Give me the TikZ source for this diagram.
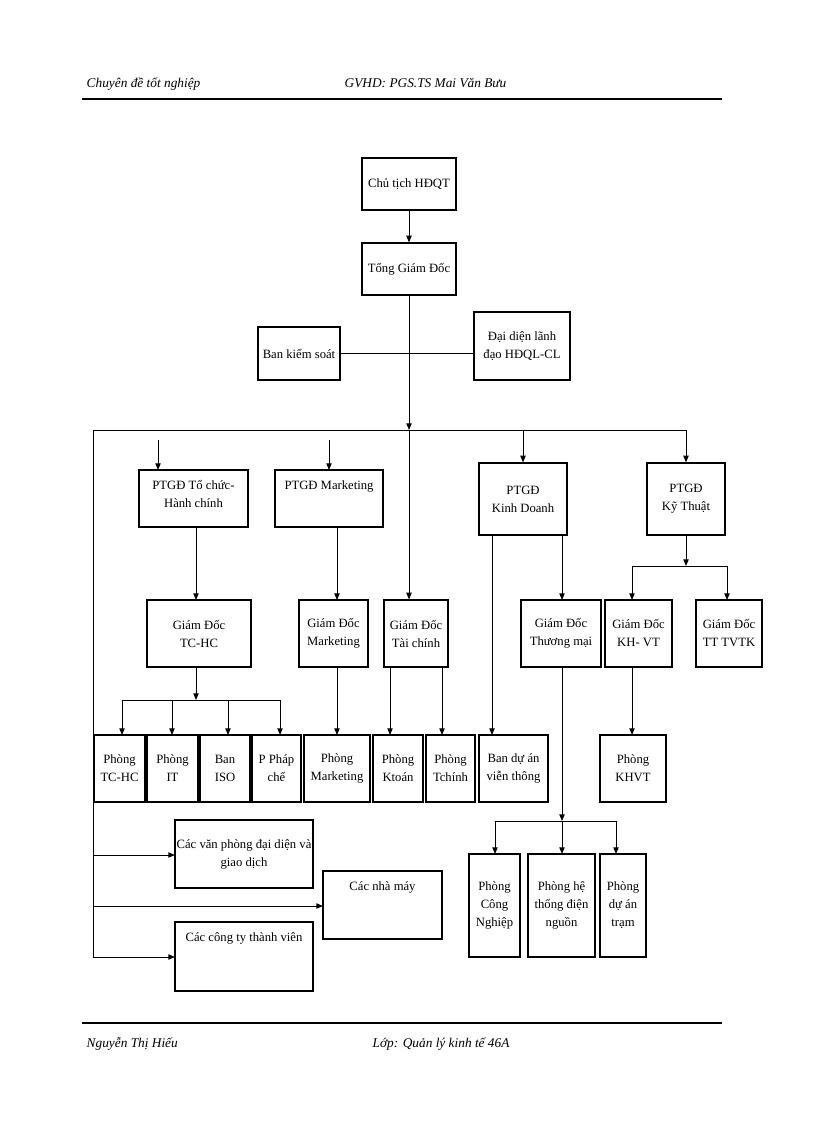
\documentclass[tikz,border=0pt]{standalone}
\usepackage{fontspec}
\setmainfont{Liberation Serif}
\usetikzlibrary{arrows.meta}
\newcommand{\mybox}[6]{\node[bx,minimum width={(#4-#2)*0.75pt},minimum height={(#5-#3)*0.75pt}] (#1) at ({(#2+#4)/2},{(#3+#5)/2}) {#6};}
\newcommand{\mytopbox}[6]{\node[bx,minimum width={(#4-#2)*0.75pt},minimum height={(#5-#3)*0.75pt}] (#1) at ({(#2+#4)/2},{(#3+#5)/2}) {}; \node[txt,anchor=north] at ({(#2+#4)/2},{#3+6}) {#6};}
\begin{document}
\begin{tikzpicture}[x=0.75pt,y=-0.75pt,
  bx/.style={draw,line width=0.9pt,inner sep=1pt,align=center,font=\fontsize{9.5}{13.5}\selectfont},
  txt/.style={align=center,font=\fontsize{9.5}{13.5}\selectfont},
  ln/.style={line width=0.7pt},
  ar/.style={line width=0.7pt,-{Triangle[length=5pt,width=4pt]}}]
\useasboundingbox (0,0) rectangle (816,1123);
% header/footer
\node[anchor=base west,font=\itshape\fontsize{10}{12}\selectfont] (h1) at (82,88) {Chuyên đề tốt nghiệp};
\node[anchor=base west,font=\itshape\fontsize{10}{12}\selectfont] (h2) at (340,88) {GVHD: PGS.TS Mai Văn Bưu};
\draw[line width=1.6pt] (82,99) -- (722,99);
\draw[line width=1.6pt] (82,1023) -- (722,1023);
\node[anchor=base west,font=\itshape\fontsize{10}{12}\selectfont] (f1) at (82,1047) {Nguyễn Thị Hiếu};
\node[anchor=base west,font=\itshape\fontsize{10}{12}\selectfont] (f2) at (368,1047) {Lớp: Quản lý kinh tế 46A};
% boxes
\mybox{ct}{362}{158}{456}{210}{Chủ tịch HĐQT}
\mybox{tgd}{362}{243}{456}{295}{Tổng Giám Đốc}
\mybox{bks}{258}{327}{340}{380}{Ban kiểm soát}
\mybox{dd}{474}{312}{570}{380}{Đại diện lãnh\\đạo HĐQL-CL}
\mytopbox{p1}{139}{470}{248}{527}{PTGĐ Tổ chức-\\Hành chính}
\mytopbox{p2}{275}{470}{383}{527}{PTGĐ Marketing}
\mybox{p3}{479}{463}{567}{535}{PTGĐ\\Kinh Doanh}
\mybox{p4}{647}{463}{725}{535}{PTGĐ\\Kỹ Thuật}
\mybox{g1}{147}{600}{251}{667}{Giám Đốc\\TC-HC}
\mybox{g2}{299}{600}{368}{667}{Giám Đốc\\Marketing}
\mybox{g3}{384}{600}{448}{667}{Giám Đốc\\Tài chính}
\mybox{g4}{521}{600}{601}{667}{Giám Đốc\\Thương mại}
\mybox{g5}{605}{600}{672}{667}{Giám Đốc\\KH- VT}
\mybox{g6}{696}{600}{762}{667}{Giám Đốc\\TT TVTK}
\mybox{r1}{94}{735}{145}{802}{Phòng\\TC-HC}
\mybox{r2}{147}{735}{198}{802}{Phòng\\IT}
\mybox{r3}{200}{735}{250}{802}{Ban\\ISO}
\mybox{r4}{252}{735}{301}{802}{P Pháp\\chế}
\mybox{r5}{304}{735}{370}{802}{Phòng\\Marketing}
\mybox{r6}{373}{735}{423}{802}{Phòng\\Ktoán}
\mybox{r7}{426}{735}{475}{802}{Phòng\\Tchính}
\mybox{r8}{479}{735}{548}{802}{Ban dự án\\viễn thông}
\mybox{r9}{600}{735}{666}{802}{Phòng\\KHVT}
\mybox{s1}{469}{854}{520}{957}{Phòng\\Công\\Nghiệp}
\mybox{s2}{528}{854}{595}{957}{Phòng hệ\\thống điện\\nguồn}
\mybox{s3}{600}{854}{646}{957}{Phòng\\dự án\\trạm}
\mybox{c1}{175}{820}{313}{888}{Các văn phòng đại diện và\\giao dịch}
\mytopbox{c2}{323}{871}{442}{939}{Các nhà máy}
\mytopbox{c3}{175}{922}{313}{991}{Các công ty thành viên}
% coordinates
\coordinate (bl) at (93,430);
\coordinate (br) at (686,430);
\coordinate (m) at (409,430);
\coordinate (bot) at (93,957);
% connectors
\draw[ar] (ct) -- (tgd);
\draw[ln] (bks.east) -- (bks.east -| dd.west);
\draw[ar] (tgd.south) -- (m);
\draw[ln] (bl) -- (br);
\draw[ln] (bl) -- (bot);
\draw[ar] (m) -- (g3.north -| m);
\draw[ar] (158,440) -- (158,470);
\draw[ar] (329,440) -- (329,470);
\draw[ar] (523,430) -- (p3.north);
\draw[ar] (br) -- (p4.north);
% Ky thuat
\draw[ar] (p4.south) -- (686,566);
\draw[ln] (632,566) -- (727,566);
\draw[ar] (632,566) -- (632,600);
\draw[ar] (727,566) -- (727,600);
\draw[ar] (196,527) -- (196,600);
\draw[ar] (337,527) -- (337,600);
\draw[ar] (562,535) -- (562,600);
\draw[ar] (492,535) -- (492,735);
% TC-HC
\draw[ar] (196,667) -- (196,700);
\draw[ln] (122,700) -- (280,700);
\foreach \x in {122,172,228,280} \draw[ar] (\x,700) -- (\x,735);
\draw[ar] (337,667) -- (337,735);
\draw[ar] (390,667) -- (390,735);
\draw[ar] (442,667) -- (442,735);
\draw[ar] (632,667) -- (632,735);
% Thuong mai
\draw[ar] (562,667) -- (562,821);
\draw[ln] (495,821) -- (616,821);
\draw[ar] (495,821) -- (495,854);
\draw[ar] (562,821) -- (562,854);
\draw[ar] (616,821) -- (616,854);
% left branches
\draw[ar] (93,855) -- (175,855);
\draw[ar] (93,906) -- (323,906);
\draw[ar] (93,957) -- (175,957);
\end{tikzpicture}
\end{document}
